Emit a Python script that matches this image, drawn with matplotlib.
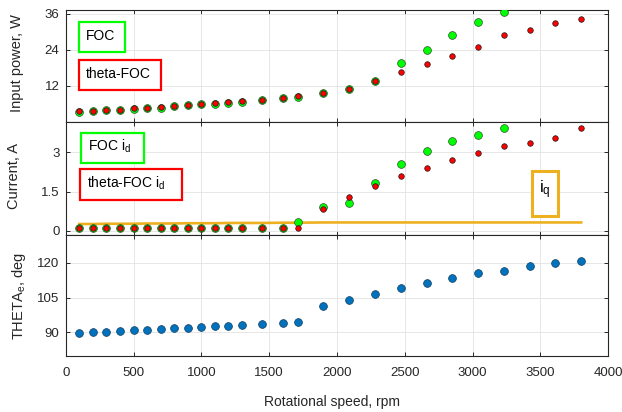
import matplotlib
matplotlib.use("Agg")
import matplotlib.pyplot as plt
from matplotlib.patches import Rectangle

plt.rcParams['font.family'] = ['Liberation Sans', 'DejaVu Sans']

# Rotational speed, rpm
rpm = [100, 200, 300, 400, 500, 600, 700, 800, 900, 1000, 1100, 1200, 1300,
       1450, 1600, 1710, 1900, 2090, 2280, 2470, 2660, 2850, 3040, 3230,
       3420, 3610, 3800]

# Input power, W
power_foc = [3.4, 3.6, 4.0, 4.0, 4.4, 4.6, 4.8, 5.2, 5.5, 5.9, 6.1, 6.4, 6.8,
             7.3, 8.0, 8.4, 9.6, 10.8, 13.7, 19.5, 24.0, 29.0, 33.05, 36.7]
power_theta = [3.5, 3.7, 4.1, 4.1, 4.5, 4.7, 4.9, 5.3, 5.6, 6.05, 6.2, 6.5, 6.9,
               7.4, 8.1, 8.5, 9.6, 10.9, 13.65, 16.6, 19.3, 21.9, 24.8, 29.0,
               30.6, 32.8, 34.2]

# d-axis current, A
id_foc = [0.12, 0.12, 0.12, 0.12, 0.12, 0.12, 0.12, 0.12, 0.12, 0.12, 0.12,
          0.12, 0.12, 0.12, 0.12, 0.35, 0.90, 1.08, 1.83, 2.57, 3.05, 3.43,
          3.66, 3.94]
id_theta = [0.12, 0.12, 0.12, 0.12, 0.12, 0.12, 0.12, 0.12, 0.12, 0.12, 0.12,
            0.12, 0.12, 0.12, 0.12, 0.12, 0.83, 1.31, 1.73, 2.11, 2.41, 2.72,
            2.99, 3.25, 3.37, 3.56, 3.94]
# q-axis current, A
iq = [0.26, 0.26, 0.27, 0.27, 0.27, 0.28, 0.28, 0.28, 0.29, 0.29, 0.29, 0.30,
      0.30, 0.30, 0.31, 0.31, 0.32, 0.32, 0.32, 0.32, 0.32, 0.32, 0.32, 0.32,
      0.32, 0.32, 0.32]

# Electrical angle, deg
theta_e = [89.8, 90.0, 90.3, 90.6, 90.9, 91.1, 91.4, 91.7, 92.0, 92.3, 92.6,
           92.8, 93.1, 93.6, 94.1, 94.3, 101.3, 104.1, 106.5, 109.0, 111.3,
           113.4, 115.4, 116.3, 118.6, 120.0, 120.6]

xticks = [0, 500, 1000, 1500, 2000, 2500, 3000, 3500, 4000]

GREEN = '#00FF00'
RED = '#FF0000'
BLUE = '#0072BD'
ORANGE = '#EDB120'
DARK = '#262626'

W, H = 622, 412
fig = plt.figure(figsize=(W / 100, H / 100), dpi=100)

x0, x1 = 65.7, 608.3


def axes_px(top, bottom):
    return fig.add_axes([x0 / W, 1 - bottom / H, (x1 - x0) / W, (bottom - top) / H])


ax1 = axes_px(10, 122)
ax2 = axes_px(122, 235)
ax3 = axes_px(235, 356.3)

for ax in (ax1, ax2, ax3):
    ax.set_xlim(0, 4000)
    ax.set_xticks(xticks)
    ax.grid(True, color='#e3e3e3', linewidth=0.6)
    ax.set_axisbelow(True)
    ax.tick_params(direction='in', top=True, right=True, length=3,
                   width=0.7, colors=DARK, labelsize=9.5)
    ax.tick_params(axis='y', pad=4.5)
    ax.tick_params(axis='x', pad=7.5)
    for s in ax.spines.values():
        s.set_color(DARK)
        s.set_linewidth(0.8)

ax1.tick_params(labelbottom=False)
ax2.tick_params(labelbottom=False)

# Input power
n_foc = len(power_foc)
ax1.plot(rpm[:n_foc], power_foc, 'o', ms=5.6, mfc=GREEN, mec='#2b4f2b', mew=0.5,
         zorder=3)
ax1.plot(rpm, power_theta, 'o', ms=4.0, mfc=RED, mec='#1a1a1a', mew=0.5, zorder=4)
ax1.set_ylim(0, 37.2)
ax1.set_yticks([12, 24, 36])

# Currents
n_id = len(id_foc)
ax2.plot(rpm, iq, '-', color=ORANGE, lw=1.9, zorder=2)
ax2.plot(rpm[:n_id], id_foc, 'o', ms=5.6, mfc=GREEN, mec='#2b4f2b', mew=0.5,
         zorder=3)
ax2.plot(rpm, id_theta, 'o', ms=4.0, mfc=RED, mec='#1a1a1a', mew=0.5, zorder=4)
ax2.set_ylim(-0.16, 4.16)
ax2.set_yticks([0, 1.5, 3])
ax2.set_yticklabels(['0', '1.5', '3'])

# Electrical angle
ax3.plot(rpm, theta_e, 'o', ms=5.6, mfc=BLUE, mec='#143c5e', mew=0.5, zorder=3)
ax3.set_ylim(79.7, 131.9)
ax3.set_yticks([90, 105, 120])
ax3.set_xticklabels([str(t) for t in xticks])

ax1.set_ylabel('Input power, W', fontsize=10.5, color=DARK, va='center')
ax1.yaxis.set_label_coords(-0.0903, 0.527)
ax2.set_ylabel('Current, A', fontsize=10.5, color=DARK, va='center')
ax2.yaxis.set_label_coords(-0.0949, 0.524)
ax3.set_ylabel(r'THETA$\mathregular{_e}$, deg', fontsize=10.5, color=DARK, va='center')
ax3.yaxis.set_label_coords(-0.0866, 0.499)
ax3.set_xlabel('Rotational speed, rpm', fontsize=10, color=DARK)
ax3.xaxis.set_label_coords((332 - x0) / (x1 - x0), -(402 - 356.3) / 121.3)
ax3.xaxis.label.set_va('center')


def label_box(ax, rect, color, text, tx, ty, size=10, lw=1.6):
    ax.add_patch(Rectangle(rect[:2], rect[2], rect[3], transform=ax.transAxes,
                           facecolor='white', edgecolor=color, linewidth=lw,
                           zorder=5, clip_on=False))
    ax.text(tx, ty, text, transform=ax.transAxes, fontsize=size, color='black',
            ha='left', va='baseline', zorder=6)


label_box(ax1, (0.0245, 0.622, 0.0842, 0.271), GREEN, 'FOC', 0.0374, 0.732)
label_box(ax1, (0.0245, 0.2857, 0.1517, 0.268), RED, 'theta-FOC', 0.0369, 0.390)
label_box(ax2, (0.0282, 0.6398, 0.1161, 0.2655), GREEN, r'FOC i$\mathregular{_d}$',
          0.0405, 0.746)
label_box(ax2, (0.0264, 0.3097, 0.1874, 0.2717), RED, r'theta-FOC i$\mathregular{_d}$',
          0.0393, 0.4186)
label_box(ax2, (0.8588, 0.1708, 0.049, 0.3956), ORANGE, r'i$\mathregular{_q}$',
          0.8726, 0.372, size=12, lw=2.2)

fig.savefig('out.png', dpi=100)
